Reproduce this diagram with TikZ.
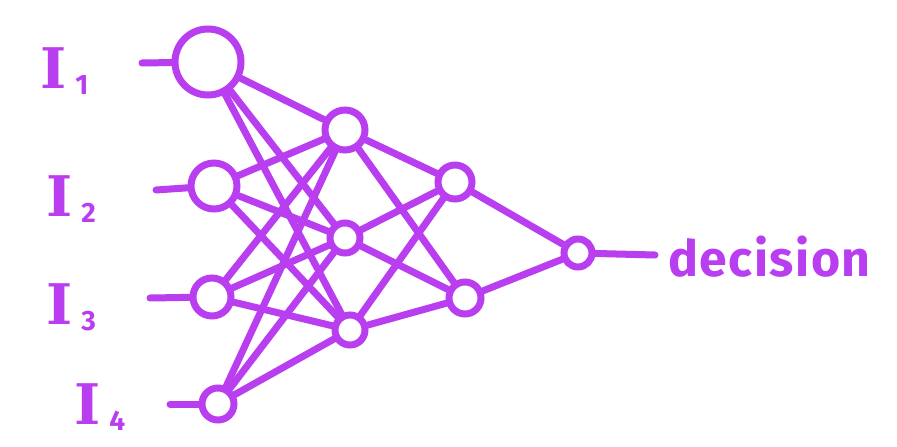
\documentclass[tikz,border=0pt]{standalone}
\usepackage{fontspec}
\setmainfont{Fira Sans}
\newfontfamily\slabfont{DejaVu Serif}
\definecolor{nnpurple}{RGB}{184,62,240}
\newcommand{\inlabel}[1]{{\slabfont\bfseries\fontsize{56}{56}\selectfont I}\hspace{9pt}{\fontsize{28}{28}\selectfont\bfseries\raisebox{-6pt}{#1}}}
\begin{document}
\begin{tikzpicture}[x=1pt,y=-1pt,
  neuron/.style={circle,draw=nnpurple,line width=7pt,inner sep=0pt},
  wire/.style={draw=nnpurple,line width=7pt,line cap=round},
  lbl/.style={text=nnpurple,inner sep=0pt,font=\bfseries}]
\useasboundingbox (0,0) rectangle (897,447);
% input layer
\node[neuron,minimum size=66pt] (i1) at (208,62) {};
\node[neuron,minimum size=46pt] (i2) at (214,186) {};
\node[neuron,minimum size=38pt] (i3) at (212,297) {};
\node[neuron,minimum size=32pt] (i4) at (218,404) {};
% hidden layer 1
\node[neuron,minimum size=40pt] (h1) at (345,130) {};
\node[neuron,minimum size=30pt] (h2) at (345,238) {};
\node[neuron,minimum size=30pt] (h3) at (350,330) {};
% hidden layer 2
\node[neuron,minimum size=34pt] (g1) at (455,182) {};
\node[neuron,minimum size=32pt] (g2) at (465,298) {};
% output
\node[neuron,minimum size=28pt] (o) at (578,253) {};
% input stubs
\coordinate (s1) at (142,63);
\coordinate (s2) at (156,190);
\coordinate (s3) at (150,298);
\coordinate (s4) at (170,404);
\coordinate (out) at (655,255);
\draw[wire] (s1) -- (i1);
\draw[wire] (s2) -- (i2);
\draw[wire] (s3) -- (i3);
\draw[wire] (s4) -- (i4);
\draw[wire] (o) -- (out);
% connections
\foreach \a in {i1,i2,i3,i4}{
  \foreach \b in {h1,h2,h3}{
    \draw[wire] (\a) -- (\b);
  }
}
\foreach \a in {h1,h2,h3}{
  \foreach \b in {g1,g2}{
    \draw[wire] (\a) -- (\b);
  }
}
\draw[wire] (g1) -- (o);
\draw[wire] (g2) -- (o);
% labels
\node[lbl,anchor=base west] (l1) at (40,88) {\inlabel{1}};
\node[lbl,anchor=base west] (l2) at (46,216) {\inlabel{2}};
\node[lbl,anchor=base west] (l3) at (46,324) {\inlabel{3}};
\node[lbl,anchor=base west] (l4) at (74,424) {\inlabel{4}};
\node[lbl,anchor=base west] (dec) at (668,276) {\fontsize{50}{50}\selectfont\addfontfeatures{LetterSpace=3}decision};
\end{tikzpicture}
\end{document}
